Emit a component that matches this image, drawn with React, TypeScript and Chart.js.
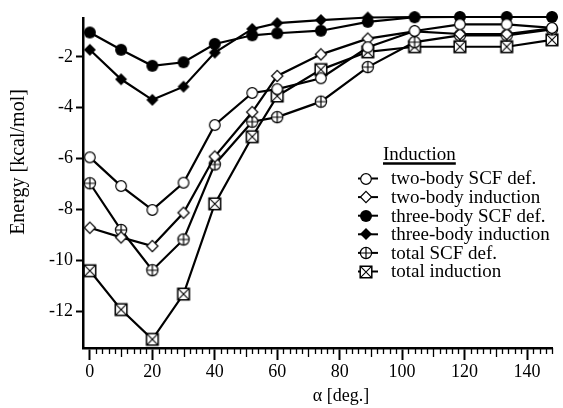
import React, { useEffect, useRef } from 'react';
import { Chart, registerables } from 'chart.js';

Chart.register(...registerables);

// ---- data ----
const angles = [0, 10, 20, 30, 40, 52, 60, 74, 89, 104, 118.5, 133.5, 148];
const twoBodySCF = [-5.95, -7.08, -8.02, -6.95, -4.68, -3.42, -3.27, -2.84, -1.62, -0.98, -0.72, -0.72, -0.86];
const twoBodyInd = [-8.72, -9.1, -9.44, -8.13, -5.92, -4.17, -2.75, -1.9, -1.28, -1.0, -1.1, -1.1, -0.88];
const threeBodySCF = [-1.04, -1.72, -2.35, -2.21, -1.49, -1.15, -1.07, -0.97, -0.62, -0.44, -0.43, -0.43, -0.43];
const threeBodyInd = [-1.72, -2.88, -3.69, -3.17, -1.83, -0.9, -0.67, -0.55, -0.45, -0.43, -0.43, -0.43, -0.43];
const totalSCF = [-6.97, -8.81, -10.39, -9.18, -6.23, -4.55, -4.37, -3.76, -2.4, -1.42, -1.15, -1.15, -0.92];
const totalInd = [-10.41, -11.94, -13.11, -11.33, -7.78, -5.14, -3.54, -2.5, -1.8, -1.6, -1.6, -1.6, -1.33];

const seriesLabels = [
  'two-body SCF def.',
  'two-body induction',
  'three-body SCF def.',
  'three-body induction',
  'total SCF def.',
  'total induction',
];
const seriesValues = [twoBodySCF, twoBodyInd, threeBodySCF, threeBodyInd, totalSCF, totalInd];
const markerKinds = ['openCircle', 'openDiamond', 'filledCircle', 'filledDiamond', 'circlePlus', 'boxX'];

const xTicks = [0, 20, 40, 60, 80, 100, 120, 140];
const yTicks = [-2, -4, -6, -8, -10, -12];
const legendTitle = 'Induction';
const xTitle = 'α [deg.]';
const yTitle = 'Energy [kcal/mol]';

const SERIF = '"Liberation Serif", "Times New Roman", Times, serif';

function makeMarker(kind: string): HTMLCanvasElement {
  const c = document.createElement('canvas');
  c.width = 16;
  c.height = 16;
  const g = c.getContext('2d') as CanvasRenderingContext2D;
  g.translate(8, 8);
  g.strokeStyle = '#000';
  g.fillStyle = '#fff';
  g.lineWidth = 1.2;
  const diamond = (h: number) => {
    g.beginPath();
    g.moveTo(0, -h);
    g.lineTo(h, 0);
    g.lineTo(0, h);
    g.lineTo(-h, 0);
    g.closePath();
  };
  switch (kind) {
    case 'openCircle':
      g.beginPath();
      g.arc(0, 0, 5.3, 0, Math.PI * 2);
      g.fill();
      g.stroke();
      break;
    case 'openDiamond':
      diamond(5.6);
      g.fill();
      g.stroke();
      break;
    case 'filledCircle':
      g.fillStyle = '#000';
      g.beginPath();
      g.arc(0, 0, 6, 0, Math.PI * 2);
      g.fill();
      break;
    case 'filledDiamond':
      g.fillStyle = '#000';
      diamond(6);
      g.fill();
      break;
    case 'circlePlus':
      g.beginPath();
      g.arc(0, 0, 5.6, 0, Math.PI * 2);
      g.fill();
      g.stroke();
      g.beginPath();
      g.moveTo(-5.6, 0);
      g.lineTo(5.6, 0);
      g.moveTo(0, -5.6);
      g.lineTo(0, 5.6);
      g.stroke();
      break;
    case 'boxX':
      g.lineWidth = 1.5;
      g.beginPath();
      g.rect(-5.8, -5.8, 11.6, 11.6);
      g.fill();
      g.stroke();
      g.lineWidth = 1.1;
      g.beginPath();
      g.moveTo(-5.8, -5.8);
      g.lineTo(5.8, 5.8);
      g.moveTo(5.8, -5.8);
      g.lineTo(-5.8, 5.8);
      g.stroke();
      break;
  }
  return c;
}

export default function App() {
  const ref = useRef<HTMLCanvasElement | null>(null);

  useEffect(() => {
    const canvas = ref.current;
    if (!canvas) return;
    const markers = markerKinds.map(makeMarker);

    const minorTicks = {
      id: 'minorTicks',
      afterDraw(chart: any) {
        const ctx = chart.ctx as CanvasRenderingContext2D;
        const xs = chart.scales.x;
        const bottom = chart.chartArea.bottom;
        ctx.save();
        ctx.strokeStyle = '#000';
        for (let v = 2; v <= 148; v += 2) {
          if (v % 20 === 0) continue;
          const px = Math.round(xs.getPixelForValue(v)) + 0.5;
          const len = v % 10 === 0 ? 9 : 6;
          ctx.lineWidth = 1.3;
          ctx.beginPath();
          ctx.moveTo(px, bottom);
          ctx.lineTo(px, bottom + len);
          ctx.stroke();
        }
        ctx.restore();
      },
    };

    const titlesAndLegend = {
      id: 'titlesAndLegend',
      afterDraw(chart: any) {
        const ctx = chart.ctx as CanvasRenderingContext2D;
        ctx.save();
        ctx.fillStyle = '#000';
        ctx.strokeStyle = '#000';
        // y title
        ctx.save();
        ctx.translate(19, 162);
        ctx.rotate(-Math.PI / 2);
        ctx.font = `20px ${SERIF}`;
        ctx.textAlign = 'center';
        ctx.textBaseline = 'middle';
        ctx.fillText(yTitle, 0, 0);
        ctx.restore();
        // x title
        ctx.font = `18px ${SERIF}`;
        ctx.textAlign = 'center';
        ctx.textBaseline = 'middle';
        ctx.fillText(xTitle, 341, 396);
        // legend
        const lx = 383;
        ctx.font = `19px ${SERIF}`;
        ctx.textAlign = 'left';
        ctx.textBaseline = 'alphabetic';
        ctx.fillText(legendTitle, lx, 160);
        const tw = ctx.measureText(legendTitle).width;
        ctx.lineWidth = 2.5;
        ctx.beginPath();
        ctx.moveTo(lx, 163.5);
        ctx.lineTo(lx + tw, 163.5);
        ctx.stroke();
        ctx.textBaseline = 'middle';
        seriesLabels.forEach((lab, i) => {
          const cy = 178.5 + i * 18.6;
          ctx.lineWidth = 2;
          ctx.beginPath();
          ctx.moveTo(358, cy);
          ctx.lineTo(378, cy);
          ctx.stroke();
          ctx.drawImage(markers[i], 366 - 8, Math.round(cy) - 8);
          ctx.fillText(lab, 391, cy + 1);
        });
        ctx.restore();
      },
    };

    const chart = new Chart(canvas, {
      type: 'line',
      data: {
        datasets: seriesValues.map((vals, i) => ({
          label: seriesLabels[i],
          data: angles.map((a, j) => ({ x: a, y: vals[j] })),
          borderColor: '#000',
          backgroundColor: '#000',
          borderWidth: 2.2,
          pointStyle: markers[i] as any,
          pointRadius: 6,
          tension: 0,
          fill: false,
          clip: false as any,
        })),
      },
      options: {
        animation: false,
        responsive: false,
        devicePixelRatio: 1,
        layout: { padding: { top: 18, right: 11, left: 0, bottom: 0 } },
        plugins: {
          legend: { display: false },
          tooltip: { enabled: false },
          title: { display: false },
        },
        elements: { point: { hoverRadius: 6 } },
        scales: {
          x: {
            type: 'linear',
            min: -2.2,
            max: 148,
            afterBuildTicks: (s: any) => {
              s.ticks = xTicks.map((v) => ({ value: v }));
            },
            afterFit: (s: any) => {
              s.height = 60;
            },
            grid: {
              drawOnChartArea: false,
              drawTicks: true,
              tickLength: 12,
              tickWidth: 2,
              tickColor: '#000',
            },
            border: { display: true, color: '#000', width: 2.5 },
            ticks: {
              color: '#000',
              font: { family: SERIF, size: 18 },
              padding: 1,
              maxRotation: 0,
              autoSkip: false,
            },
          },
          y: {
            type: 'linear',
            min: -13.45,
            max: -0.47,
            afterBuildTicks: (s: any) => {
              s.ticks = yTicks.map((v) => ({ value: v }));
            },
            afterFit: (s: any) => {
              s.width = 83;
            },
            grid: {
              drawOnChartArea: false,
              drawTicks: true,
              tickLength: 7,
              tickWidth: 2,
              tickColor: '#000',
            },
            border: { display: true, color: '#000', width: 2.5 },
            ticks: {
              color: '#000',
              font: { family: SERIF, size: 18 },
              padding: 3,
              autoSkip: false,
            },
          },
        },
      },
      plugins: [minorTicks, titlesAndLegend],
    });

    return () => {
      chart.destroy();
    };
  }, []);

  return (
    <div style={{ position: 'absolute', left: 0, top: 0, width: 563, height: 408, background: '#fff' }}>
      <canvas ref={ref} width={563} height={408} style={{ display: 'block' }} />
    </div>
  );
}
